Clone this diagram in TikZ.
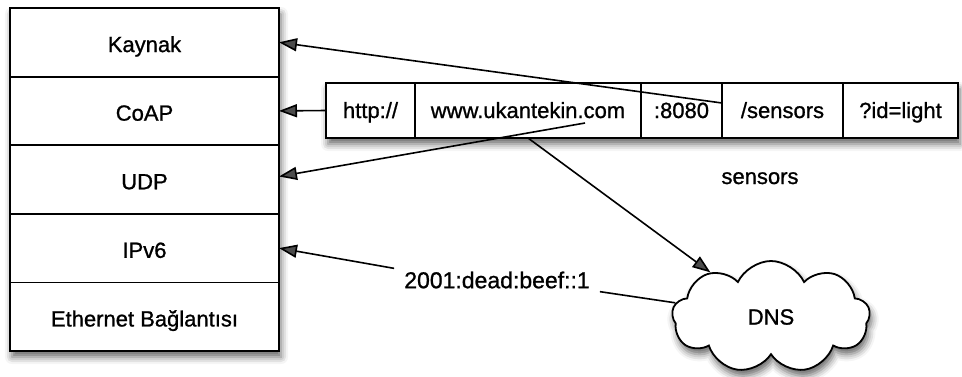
\documentclass[tikz,border=0pt]{standalone}
\usepackage{fontspec}
\setmainfont[RawFeature={embolden=1.0}]{Liberation Sans}
\usetikzlibrary{arrows.meta,shapes.symbols,shadows.blur}

\begin{document}
\begin{tikzpicture}[x=1pt,y=-1pt,
  font=\fontsize{22}{27}\selectfont,
  lw/.style={line width=1.8pt},
  cw/.style={line width=1.6pt},
  soft/.style={blur shadow={shadow xshift=2pt, shadow yshift=-6pt,
      shadow blur radius=7pt, shadow opacity=60}},
  layer/.style={draw, lw, fill=white, minimum width=269pt,
      minimum height=68.6pt, inner sep=0pt, outer sep=0pt,
      text height=22pt, text depth=2.5pt, anchor=north west},
  cell/.style={draw, lw, fill=white, minimum height=55pt,
      inner sep=0pt, outer sep=0pt, text height=20pt, text depth=5pt,
      anchor=north west},
  arr/.style={cw, -{Triangle[length=18pt,width=13pt]}},
  link/.style={cw}]

\useasboundingbox (0,0) rectangle (962,376);

% protocol stack
\path[soft] (10,8) rectangle (279,351);
\node[layer] (kaynak) at (10,8)      {Kaynak};
\node[layer] (coap)   at (10,76.6)   {CoAP};
\node[layer] (udp)    at (10,145.2)  {UDP};
\node[layer] (ipv6)   at (10,213.8)  {IPv6};
\node[layer] (eth)    at (10,282.4)  {Ethernet Bağlantısı};

% URL split into its parts
\path[soft] (326,83) rectangle (958,138);
\node[cell, minimum width=89pt]  (http)  at (326,83) {http://};
\node[cell, minimum width=226pt] (www)   at (415,83) {www.ukantekin.com};
\node[cell, minimum width=81pt]  (port)  at (641,83) {:8080};
\node[cell, minimum width=121pt] (path)  at (722,83) {/sensors};
\node[cell, minimum width=115pt] (query) at (843,83) {?id=light};

\node[anchor=base] (res) at (760,184) {sensors};

% name server
\node[cloud, draw, lw, fill=white, soft, cloud puffs=9, cloud puff arc=130,
      cloud ignores aspect, minimum width=198pt, minimum height=112pt,
      inner sep=0pt] (dns) at (771,317) {DNS};

\node[inner xsep=10pt, inner ysep=3pt, font=\fontsize{23}{28}\selectfont]
  (addr) at (497,280) {2001:dead:beef::1};

% connectors
\coordinate (pathstart) at (722,103);
\coordinate (hoststart) at (585,123);
\draw[arr] (pathstart) -- (kaynak.east);
\draw[arr] (http.west) -- (coap.east);
\draw[arr] (hoststart) -- ([yshift=3pt]udp.east);
\draw[arr] (www.south) -- (dns);
\draw[arr] (addr.north west) -- (ipv6.east);
\draw[link] (addr.south east) -- (dns);
\end{tikzpicture}
\end{document}
